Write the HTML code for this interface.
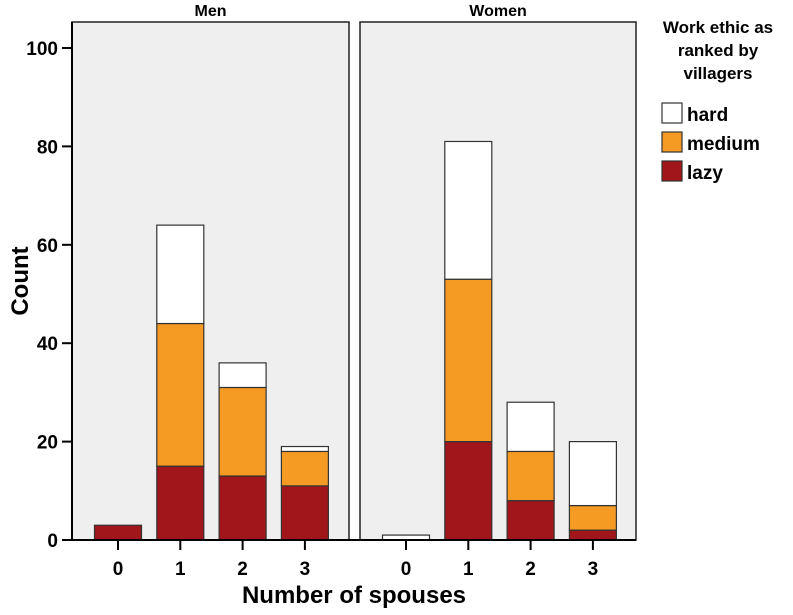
<!DOCTYPE html>
<html><head><meta charset="utf-8"><style>
body{margin:0;background:#fff;}
svg text{font-family:"Liberation Sans",Arial,sans-serif;font-weight:bold;fill:#000;}
</style></head><body>
<svg width="793" height="610">
<g id="chart"></g>
</svg>
<script>
const categories=["0","1","2","3"];
const panels=["Men","Women"];
const menLazy=[3,15,13,11];
const menMedium=[0,29,18,7];
const menHard=[0,20,5,1];
const womenLazy=[0,20,8,2];
const womenMedium=[0,33,10,5];
const womenHard=[1,28,10,13];
const yTicks=[0,20,40,60,80,100];
const seriesNames=["hard","medium","lazy"];
const colors={lazy:"#a0161b",medium:"#f59a23",hard:"#ffffff"};
const NS="http://www.w3.org/2000/svg";
const g=document.getElementById('chart');
function el(t,a,p){const e=document.createElementNS(NS,t);for(const k in a)e.setAttribute(k,a[k]);(p||g).appendChild(e);return e;}
const y0=540,y100=48;
function y(v){return y0-(y0-y100)*v/100;}
const panelX=[[72,349],[360,636]];
const barW=47;
function x(pi,i){const [a,b]=panelX[pi];return a+46+i*62.3;}
const data=[[menLazy,menMedium,menHard],[womenLazy,womenMedium,womenHard]];
panels.forEach((name,pi)=>{
 const [a,b]=panelX[pi];
 const r=el('rect',{x:a,y:22,width:b-a,height:y0-22,fill:'#efefef',stroke:'#222','stroke-width':1.5});
 
 
 const t=el('text',{x:(a+b)/2,y:16,'text-anchor':'middle','font-size':16});
 t.textContent=name;
 
 
 categories.forEach((c,i)=>{
  const cx=x(pi,i);let base=0;
  const [L,M,H]=data[pi];
  [["lazy",L[i]],["medium",M[i]],["hard",H[i]]].forEach(([s,v])=>{
   if(v<=0)return;
   const rb=el('rect',{x:cx-barW/2,y:y(base+v),width:barW,height:y(base)-y(base+v),fill:colors[s],stroke:'#333','stroke-width':1.2});
   
   
   base+=v;
  });
  const tk=el('line',{x1:cx,x2:cx,y1:y0,y2:y0+10,stroke:'#000','stroke-width':2});
  
  
  const tl=el('text',{x:cx,y:575,'text-anchor':'middle','font-size':19});
  tl.textContent=c;
  
  
 });
});
const ax=el('line',{x1:72,x2:72,y1:22,y2:y0,stroke:'#000','stroke-width':2});


const bx=el('line',{x1:62,x2:636,y1:y0,y2:y0,stroke:'#000','stroke-width':2});


yTicks.forEach(v=>{
 const l=el('line',{x1:62,x2:72,y1:y(v),y2:y(v),stroke:'#000','stroke-width':2});
 
 
 const t=el('text',{x:58,y:y(v)+7,'text-anchor':'end','font-size':19});
 t.textContent=v;
 
 
});
const yt=el('text',{x:0,y:0,'text-anchor':'middle','font-size':24,transform:'translate(28,281) rotate(-90)'});
yt.textContent='Count';


const xt=el('text',{x:354,y:603,'text-anchor':'middle','font-size':24});
xt.textContent='Number of spouses';


["Work ethic as","ranked by","villagers"].forEach((s,i)=>{
 const t=el('text',{x:718,y:33+i*23,'text-anchor':'middle','font-size':17});
 t.textContent=s;
 
 
});
seriesNames.forEach((s,i)=>{
 const yy=103+i*29;
 const r=el('rect',{x:662,y:yy,width:20,height:20,fill:colors[s],stroke:'#333','stroke-width':1.2});
 
 
 const t=el('text',{x:687,y:yy+18,'font-size':19});
 t.textContent=s;
 
 
});
</script>
</body></html>
